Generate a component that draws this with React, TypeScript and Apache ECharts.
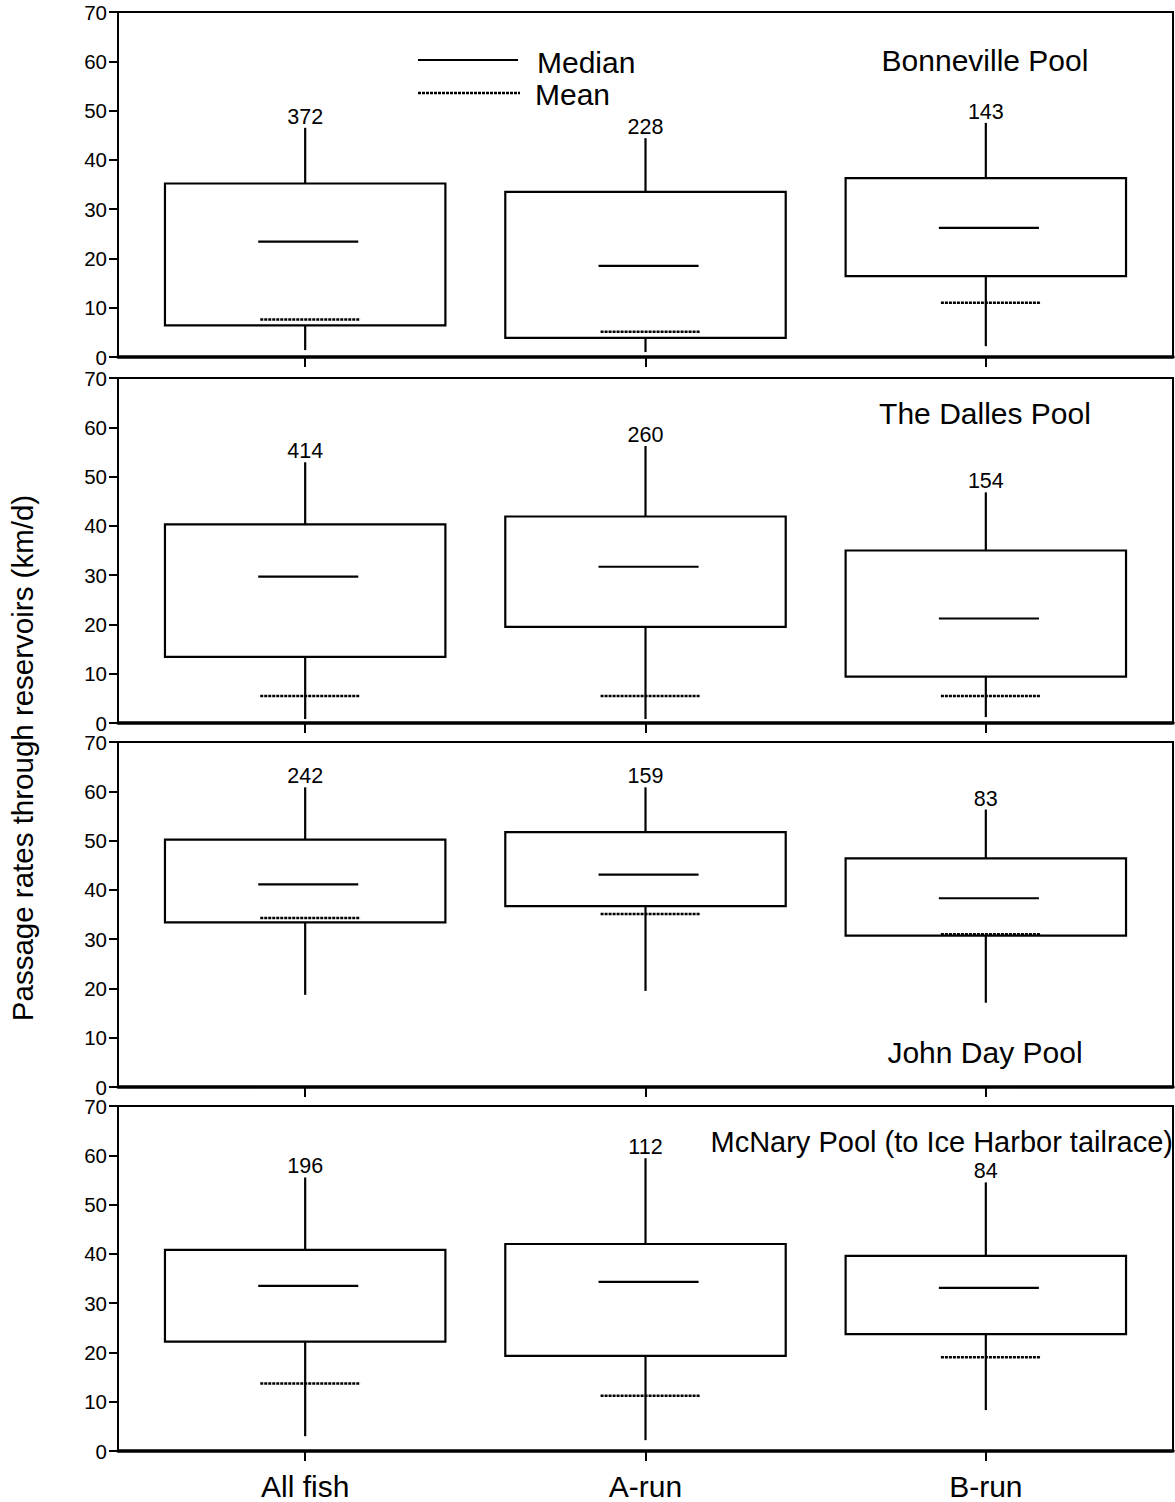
import React, { useEffect, useRef } from "react";
import * as echarts from "echarts";

const categories = ["All fish", "A-run", "B-run"];
const pools = ["Bonneville Pool", "The Dalles Pool", "John Day Pool", "McNary Pool (to Ice Harbor tailrace)"];

// per pool (rows) and per category (columns), km/d
const whiskerLow = [
  [1.4, 1.0, 2.2],
  [0.8, 0.8, 1.2],
  [18.7, 19.5, 17.1],
  [3.0, 2.2, 8.3],
];
const quartile1 = [
  [6.4, 3.9, 16.4],
  [13.4, 19.5, 9.4],
  [33.4, 36.7, 30.7],
  [22.2, 19.3, 23.7],
];
const medians = [
  [23.4, 18.5, 26.2],
  [29.7, 31.7, 21.2],
  [41.1, 43.1, 38.3],
  [33.5, 34.3, 33.1],
];
const quartile3 = [
  [35.2, 33.5, 36.3],
  [40.3, 41.9, 35.0],
  [50.2, 51.7, 46.4],
  [40.8, 42.0, 39.6],
];
const whiskerHigh = [
  [46.5, 44.4, 47.5],
  [52.9, 56.2, 46.8],
  [60.8, 60.8, 56.3],
  [55.5, 59.4, 54.5],
];
const means = [
  [7.6, 5.1, 11.0],
  [5.5, 5.5, 5.5],
  [34.3, 35.1, 31.0],
  [13.7, 11.2, 19.0],
];
const sampleSizes = [
  [372, 228, 143],
  [414, 260, 154],
  [242, 159, 83],
  [196, 112, 84],
];
const yTicks = [0, 10, 20, 30, 40, 50, 60, 70];

const FONT = "'Liberation Sans', Arial, Helvetica, sans-serif";
const gridTops = [12, 378, 742, 1106];
const gridHeight = 345;
const titlePos = [
  { x: 985, y: 60, align: "center", size: 30 },
  { x: 985, y: 413, align: "center", size: 30 },
  { x: 985, y: 1052, align: "center", size: 30 },
  { x: 1173, y: 1142, align: "right", size: 29 },
];
const DASH = [3, 1];

export default function App() {
  const ref = useRef<HTMLDivElement>(null);
  useEffect(() => {
    if (!ref.current) return;
    const chart = echarts.init(ref.current, undefined, { renderer: "svg" });

    const grids = pools.map((_, i) => ({
      left: 118,
      right: 2,
      top: gridTops[i],
      height: gridHeight,
      show: true,
      borderColor: "#000",
      borderWidth: 2,
      backgroundColor: "transparent",
    }));

    const xAxes = pools.map((_, i) => ({
      type: "value",
      gridIndex: i,
      min: 0.45,
      max: 3.55,
      splitLine: { show: false },
      axisLine: { show: true, onZero: false, lineStyle: { color: "#000", width: 3.5 } },
      axisTick: {
        show: true,
        customValues: [1, 2, 3],
        length: 10,
        inside: false,
        lineStyle: { color: "#000", width: 2 },
      },
      axisLabel: {
        show: i === pools.length - 1,
        customValues: [1, 2, 3],
        formatter: (v: number) => categories[Math.round(v) - 1] || "",
        fontSize: 30,
        fontFamily: FONT,
        color: "#000",
        margin: 20,
      },
    }));

    const yAxes = pools.map((_, i) => ({
      type: "value",
      gridIndex: i,
      min: yTicks[0],
      max: yTicks[yTicks.length - 1],
      interval: 10,
      splitLine: { show: false },
      axisLine: { show: true, lineStyle: { color: "#000", width: 2 } },
      axisTick: { show: true, length: 9, inside: false, lineStyle: { color: "#000", width: 2 } },
      axisLabel: {
        fontSize: 20.5,
        fontFamily: FONT,
        color: "#000",
        margin: 11,
      },
    }));

    const series = pools.map((_, i) => ({
      type: "custom",
      xAxisIndex: i,
      yAxisIndex: i,
      clip: false,
      encode: { x: 0, y: [1, 2, 3, 4, 5, 6] },
      data: categories.map((_, j) => [
        j + 1,
        whiskerLow[i][j],
        quartile1[i][j],
        medians[i][j],
        quartile3[i][j],
        whiskerHigh[i][j],
        means[i][j],
        sampleSizes[i][j],
      ]),
      renderItem: (params: any, api: any) => {
        const x = api.value(0);
        const lo = api.coord([x, api.value(1)]);
        const q1 = api.coord([x, api.value(2)]);
        const q3 = api.coord([x, api.value(4)]);
        const hi = api.coord([x, api.value(5)]);
        const bL = api.coord([x - 0.412, api.value(2)]);
        const bR = api.coord([x + 0.412, api.value(4)]);
        const mdL = api.coord([x - 0.138, api.value(3)]);
        const mdR = api.coord([x + 0.156, api.value(3)]);
        const mnL = api.coord([x - 0.132, api.value(6)]);
        const mnR = api.coord([x + 0.162, api.value(6)]);
        const stroke = { stroke: "#000", lineWidth: 2.2 };
        return {
          type: "group",
          children: [
            { type: "line", shape: { x1: q3[0], y1: q3[1], x2: hi[0], y2: hi[1] }, style: stroke },
            { type: "line", shape: { x1: q1[0], y1: q1[1], x2: lo[0], y2: lo[1] }, style: stroke },
            {
              type: "rect",
              shape: { x: bL[0], y: bR[1], width: bR[0] - bL[0], height: bL[1] - bR[1] },
              style: { fill: "none", stroke: "#000", lineWidth: 2.2 },
            },
            { type: "line", shape: { x1: mdL[0], y1: mdL[1], x2: mdR[0], y2: mdR[1] }, style: stroke },
            {
              type: "line",
              shape: { x1: mnL[0], y1: mnL[1], x2: mnR[0], y2: mnR[1] },
              style: { stroke: "#000", lineWidth: 2.5, lineDash: DASH },
            },
            {
              type: "text",
              x: hi[0],
              y: hi[1] - 11,
              style: {
                text: String(api.value(7)),
                fontSize: 21.5,
                fontFamily: FONT,
                fill: "#000",
                align: "center",
                verticalAlign: "middle",
              },
            },
          ],
        };
      },
    }));

    const graphic: any[] = [
      {
        type: "text",
        x: 22,
        y: 758,
        rotation: Math.PI / 2,
        style: {
          text: "Passage rates through reservoirs (km/d)",
          fontSize: 29.5,
          fontFamily: FONT,
          fill: "#000",
          align: "center",
          verticalAlign: "middle",
        },
      },
      { type: "line", shape: { x1: 418, y1: 60, x2: 518, y2: 60 }, style: { stroke: "#000", lineWidth: 2.2 } },
      {
        type: "line",
        shape: { x1: 418, y1: 93, x2: 520, y2: 93 },
        style: { stroke: "#000", lineWidth: 2.5, lineDash: DASH },
      },
      {
        type: "text",
        x: 537,
        y: 62,
        style: { text: "Median", fontSize: 30, fontFamily: FONT, fill: "#000", align: "left", verticalAlign: "middle" },
      },
      {
        type: "text",
        x: 535,
        y: 94,
        style: { text: "Mean", fontSize: 30, fontFamily: FONT, fill: "#000", align: "left", verticalAlign: "middle" },
      },
      ...pools.map((p, i) => ({
        type: "text",
        x: titlePos[i].x,
        y: titlePos[i].y,
        style: {
          text: p,
          fontSize: titlePos[i].size,
          fontFamily: FONT,
          fill: "#000",
          align: titlePos[i].align,
          verticalAlign: "middle",
        },
      })),
    ];

    chart.setOption({
      animation: false,
      backgroundColor: "#fff",
      grid: grids,
      xAxis: xAxes,
      yAxis: yAxes,
      series,
      graphic,
    } as any);

    return () => chart.dispose();
  }, []);

  return (
    <div
      ref={ref}
      style={{ position: "absolute", left: 0, top: 0, width: 1175, height: 1502, background: "#fff" }}
    />
  );
}
